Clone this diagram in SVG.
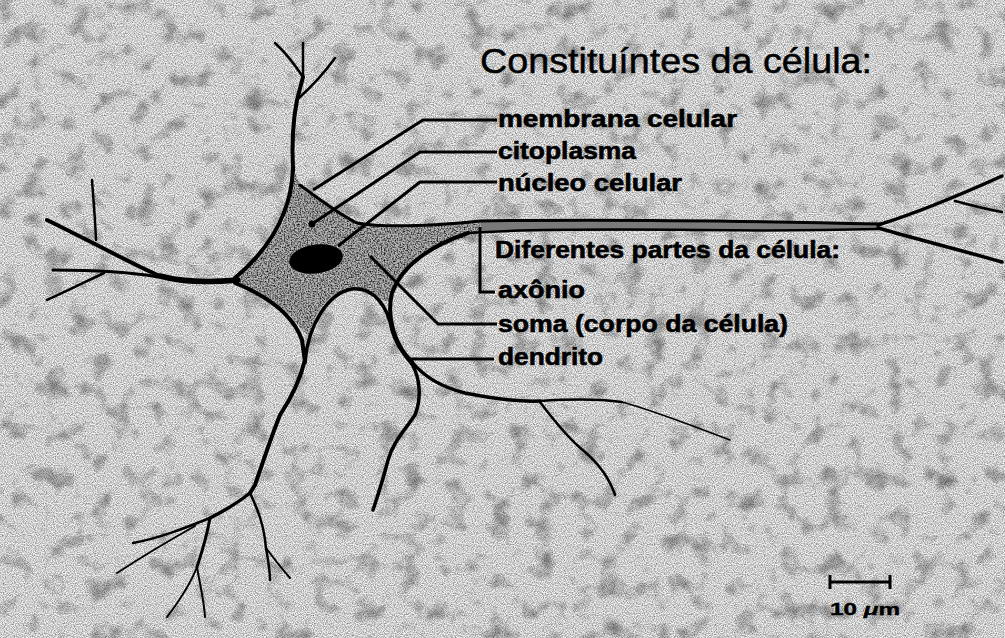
<svg xmlns="http://www.w3.org/2000/svg" width="1005" height="638" viewBox="0 0 1005 638">
  <style>
    .ln { fill: none; stroke: #000; stroke-linecap: round; stroke-linejoin: round; }
    .lead { fill: none; stroke: #000; stroke-width: 3; stroke-linejoin: miter; }
    .title { font-family: "Liberation Sans", Arial, sans-serif; font-size: 35px; fill: #000; stroke: #000; stroke-width: 0.5; }
    .lbl { font-family: "Liberation Sans", Arial, sans-serif; font-weight: bold; font-size: 23px; fill: #000; stroke: #000; stroke-width: 0.6; }
    .scale { font-family: "Liberation Sans", Arial, sans-serif; font-weight: bold; font-size: 17px; fill: #000; stroke: #000; stroke-width: 0.4; }
  </style>
  <defs>
    <!-- fine speckle of the stained tissue -->
    <filter id="grain" x="0" y="0" width="100%" height="100%" color-interpolation-filters="sRGB">
      <feTurbulence type="fractalNoise" baseFrequency="0.9" numOctaves="1" seed="7"/>
      <feColorMatrix type="matrix" values="0 0 0 0 0  0 0 0 0 0  0 0 0 0 0  1.0 0 0 0 -0.34"/>
    </filter>
    <!-- faint darker smudges in the tissue -->
    <filter id="blotch" x="0" y="0" width="100%" height="100%" color-interpolation-filters="sRGB">
      <feTurbulence type="fractalNoise" baseFrequency="0.045" numOctaves="3" seed="11"/>
      <feColorMatrix type="matrix" values="0 0 0 0 0  0 0 0 0 0  0 0 0 0 0  1.0 0 0 0 -0.52"/>
    </filter>
    <filter id="somaGrain" x="0" y="0" width="100%" height="100%" color-interpolation-filters="sRGB">
      <feTurbulence type="fractalNoise" baseFrequency="0.7" numOctaves="2" seed="3" result="n"/>
      <feColorMatrix in="n" type="matrix" values="0 0 0 0 0  0 0 0 0 0  0 0 0 0 0  2.0 0 0 0 -0.75" result="dots"/>
      <feComposite in="dots" in2="SourceGraphic" operator="in"/>
    </filter>
    <clipPath id="somaClip">
      <path id="somaShape" d="M293,168 L300,185 C320,200 340,215 357,223 C385,228 430,226 480,221 L482,232 C455,240 425,252 410,265 C398,278 393,290 390,302 L382,300 C375,292 362,288 350,289 C335,291 322,302 314,320 L308,336 L300,328 C290,310 262,290 235,283 L233,277 C258,258 278,238 286,215 C290,200 292,185 293,168 Z"/>
    </clipPath>
  </defs>

  <!-- tissue background -->
  <g id="background">
    <rect width="1005" height="638" fill="#f4f4f4"/>
    <rect width="1005" height="638" filter="url(#blotch)"/>
    <rect width="1005" height="638" filter="url(#grain)"/>
  </g>

  <!-- neuron -->
  <g id="neuron">
    <g id="soma">
      <use href="#somaShape" fill="#b8b8b8"/>
      <rect x="220" y="160" width="270" height="185" fill="#000" clip-path="url(#somaClip)" filter="url(#somaGrain)"/>
    </g>

    <g id="axon">
      <path d="M480,221 C600,219 750,221 880,224 L878,229 C780,231 640,230 482,232 Z" fill="#7a7a7a"/>
      <path class="ln" stroke-width="3" d="M300,185 C320,200 340,215 357,223 C385,228 430,226 480,221 C600,219 750,221 880,224"/>
      <path class="ln" stroke-width="2.5" d="M468,233 C520,229 600,229 700,230 C780,231 840,230 878,229"/>
      <path class="ln" stroke-width="3.5" d="M878,225 C920,212 960,195 1002,176"/>
      <path class="ln" stroke-width="2.5" d="M955,201 C970,205 985,209 1002,212"/>
      <path class="ln" stroke-width="3.5" d="M878,228 C920,240 960,250 1002,262"/>
    </g>

    <g id="dendrites">
      <!-- upper dendrite -->
      <path class="ln" stroke-width="4" d="M293,170 C292,150 292,125 297,100 L303,77"/>
      <path class="ln" stroke-width="2.5" d="M303,77 C295,65 285,52 275,43"/>
      <path class="ln" stroke-width="2.5" d="M303,77 C303,65 303,55 303,43"/>
      <path class="ln" stroke-width="2.5" d="M299,98 C310,88 325,72 335,58"/>
      <!-- left dendrite -->
      <path class="ln" stroke-width="4" d="M293,168 C292,200 280,240 235,278"/>
      <path class="ln" stroke-width="5.5" d="M238,280 C205,283 178,281 160,276"/>
      <path class="ln" stroke-width="4" d="M160,276 C140,268 112,252 47,220"/>
      <path class="ln" stroke-width="2.5" d="M96,240 C95,215 93,195 92,180"/>
      <path class="ln" stroke-width="3" d="M158,277 C130,272 100,270 53,270"/>
      <path class="ln" stroke-width="2.5" d="M104,273 C85,282 65,292 47,300"/>
      <!-- soma lower-left edge into the left lower dendrite -->
      <path class="ln" stroke-width="4" d="M235,283 C265,295 292,312 302,340 L305,362"/>
      <!-- arch between the lower dendrites -->
      <path class="ln" stroke-width="3.5" d="M305,362 C308,325 328,293 352,289 C375,287 388,308 392,330 C396,345 404,355 412,364"/>
      <!-- right trunk from the axon hillock -->
      <path class="ln" stroke-width="4" d="M468,233 C432,245 402,265 392,293 C386,318 395,345 412,362"/>
      <!-- left lower dendrite -->
      <path class="ln" stroke-width="4" d="M305,360 C300,380 290,400 280,415 C270,440 262,465 255,485 L250,493"/>
      <path class="ln" stroke-width="2.5" d="M250,493 C258,510 264,525 266,548 C268,560 270,570 270,580"/>
      <path class="ln" stroke-width="2" d="M266,548 C275,560 283,570 290,578"/>
      <path class="ln" stroke-width="3.5" d="M250,493 C235,505 222,512 210,518"/>
      <path class="ln" stroke-width="2.5" d="M210,518 C185,528 160,538 133,543"/>
      <path class="ln" stroke-width="2" d="M195,526 C170,540 140,558 117,573"/>
      <path class="ln" stroke-width="3" d="M210,518 C207,535 201,555 197,567"/>
      <path class="ln" stroke-width="2" d="M197,567 C190,585 180,600 167,617"/>
      <path class="ln" stroke-width="2" d="M197,567 C200,585 204,600 205,617"/>
      <!-- middle lower dendrite -->
      <path class="ln" stroke-width="3.5" d="M412,364 C421,380 421,400 415,415 C405,430 393,442 388,460 C383,480 378,495 373,510"/>
      <!-- right lower dendrite -->
      <path class="ln" stroke-width="3.5" d="M412,362 C425,378 445,388 465,393 C490,398 515,402 540,401"/>
      <path class="ln" stroke-width="2.5" d="M540,401 C570,399 600,399 622,402"/>
      <path class="ln" stroke-width="1.6" stroke="#222" d="M622,402 C655,411 690,425 730,440"/>
      <path class="ln" stroke-width="2.5" d="M540,402 C552,418 570,440 585,452 C600,465 610,480 615,495"/>
    </g>

    <g id="nucleus">
      <ellipse cx="316" cy="259" rx="27" ry="14.5" transform="rotate(-8 316 259)" fill="#000"/>
    </g>
  </g>

  <!-- leader lines from the labels -->
  <g id="connectors">
    <path class="lead" d="M497,120 H423 L313,190"/>
    <path class="lead" d="M497,152 H420 L312,224"/>
    <circle cx="312" cy="224" r="3.5" fill="#000"/>
    <path class="lead" d="M497,182 H420 L338,246"/>
    <path class="lead" d="M480,227 V292 H495"/>
    <path class="lead" d="M497,324 H438 L370,256"/>
    <path class="lead" d="M494,359 H408"/>
  </g>

  <g id="title">
    <text class="title" x="480" y="73" textLength="392" lengthAdjust="spacingAndGlyphs">Constituíntes da célula:</text>
  </g>

  <g id="label-membrana">
    <text class="lbl" x="498" y="127" textLength="239" lengthAdjust="spacingAndGlyphs">membrana celular</text>
  </g>
  <g id="label-citoplasma">
    <text class="lbl" x="498" y="159" textLength="138" lengthAdjust="spacingAndGlyphs">citoplasma</text>
  </g>
  <g id="label-nucleo">
    <text class="lbl" x="498" y="191" textLength="184" lengthAdjust="spacingAndGlyphs">núcleo celular</text>
  </g>
  <g id="label-partes">
    <text class="lbl" x="495" y="258" textLength="345" lengthAdjust="spacingAndGlyphs">Diferentes partes da célula:</text>
  </g>
  <g id="label-axonio">
    <text class="lbl" x="498" y="298" textLength="87" lengthAdjust="spacingAndGlyphs">axônio</text>
  </g>
  <g id="label-soma">
    <text class="lbl" x="498" y="332" textLength="290" lengthAdjust="spacingAndGlyphs">soma (corpo da célula)</text>
  </g>
  <g id="label-dendrito">
    <text class="lbl" x="498" y="365" textLength="105" lengthAdjust="spacingAndGlyphs">dendrito</text>
  </g>

  <!-- 10 µm scale bar -->
  <g id="scale-bar">
    <path class="lead" stroke-width="2.5" d="M830,582 H890 M830,575 V589 M890,575 V589"/>
    <text class="scale" x="830" y="615" textLength="70" lengthAdjust="spacingAndGlyphs">10 <tspan font-style="italic">μ</tspan>m</text>
  </g>
</svg>
